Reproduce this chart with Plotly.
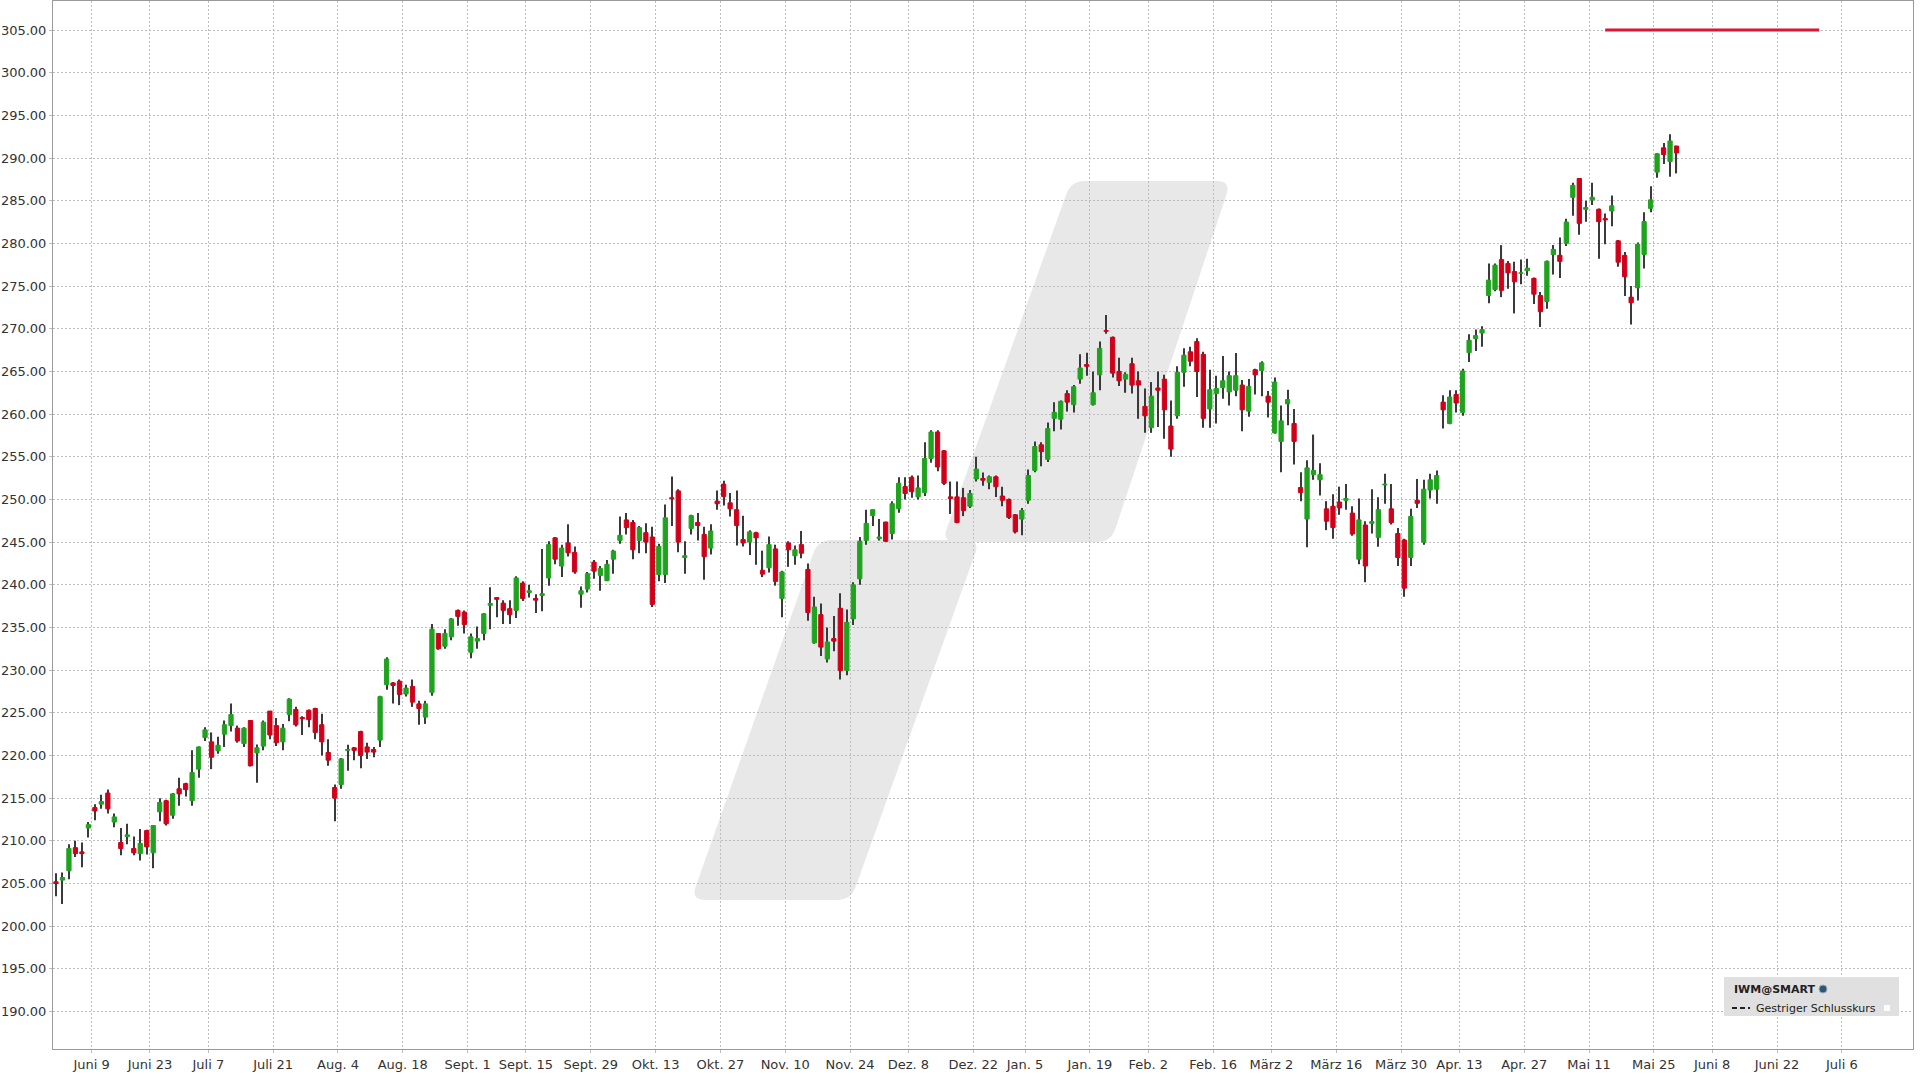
import pandas as pd
import plotly.graph_objects as go

# ---------------- data ----------------
holidays = ["2025-06-19", "2025-07-04", "2025-09-01", "2025-11-27", "2025-12-25",
            "2026-01-01", "2026-01-19", "2026-02-16", "2026-04-03", "2026-05-25"]

open_ = [205.2, 205.4, 206.5, 209.2, 208.7, 211.5, 213.9, 214.3, 215.6, 212.2, 209.8, 210.5, 209.1, 208.5, 211.2, 208.6, 213.4, 214.7, 213.0, 216.1, 216.7, 214.7, 218.4, 222.1, 221.6,
         220.55, 222.5, 223.5, 223.2, 221.4, 224.1, 220.3, 221.1, 225.2, 223.5, 221.6, 224.8, 225.4, 224.45, 225.3, 225.5, 223.6, 220.35, 216.25, 216.6, 220.6, 220.9, 222.8, 221.0, 220.7, 221.8,
         228.3, 228.5, 228.7, 227.2, 228.1, 226.05, 224.5, 227.4, 234.3, 232.8, 233.9, 237.0, 236.8, 232.1, 233.4, 234.3, 237.6, 238.5, 237.85, 237.2, 237.0, 240.2, 239.1, 238.4, 238.75,
         240.8, 245.5, 242.2, 244.9, 243.8, 238.9, 239.5, 242.65, 241.1, 240.5, 243.0, 245.2, 247.6, 247.3, 245.2, 246.1, 245.6, 241.2, 241.2, 250.2, 251.0, 243.2, 246.6, 247.3, 245.9, 244.3,
         249.8, 251.8, 249.6, 248.8, 245.3, 245.0, 246.1, 241.7, 242.0, 244.2, 238.4, 244.9, 243.4, 244.7, 241.8, 233.2, 236.5, 231.3, 233.7, 237.25, 229.95, 236.0, 240.7, 245.2, 248.1,
         245.4, 247.35, 246.0, 248.9, 251.5, 252.6, 250.3, 250.8, 254.8, 257.9, 255.7, 250.3, 250.3, 250.2, 249.2, 252.4, 252.45, 252.0, 252.65, 250.4, 250.0, 248.2, 247.7, 249.9, 253.4, 256.4,
         254.7, 259.5, 259.4, 262.4, 261.1, 264.1, 265.8, 261.1, 264.6, 269.8, 269.0, 265.0, 264.1, 265.9, 263.9, 260.9, 258.4, 263.05, 264.1, 258.6, 259.8, 264.9, 267.3, 268.5, 267.0,
         260.6, 262.4, 263.1, 262.6, 262.8, 263.4, 260.35, 265.2, 265.1, 262.1, 257.8, 256.8, 261.2, 258.9, 251.4, 247.7, 252.9, 252.3, 248.9, 249.2, 249.7, 249.9, 248.4, 243.0, 247.0, 247.2,
         245.55, 251.7, 248.9, 246.0, 245.25, 243.2, 249.9, 245.0, 251.1, 251.2, 261.4, 258.9, 262.3, 260.2, 267.2, 268.85, 269.5, 273.9, 274.6, 278.1, 277.65, 276.7, 276.5, 276.8, 275.9,
         273.9, 273.2, 278.7, 278.6, 280.0, 285.4, 287.6, 284.0, 285.1, 284.0, 282.9, 283.8, 280.3, 278.6, 273.7, 274.8, 278.7, 284.1, 288.35, 291.2, 289.6, 291.4]

high = [206.2, 206.3, 209.6, 210.0, 209.8, 212.2, 214.3, 215.4, 216.0, 213.2, 211.5, 212.0, 210.5, 211.4, 211.3, 211.8, 215.0, 214.8, 215.6, 217.4, 216.8, 220.6, 221.05, 223.3, 222.7,
        222.2, 224.1, 226.1, 223.5, 223.3, 224.1, 221.3, 224.1, 225.2, 224.4, 223.7, 226.7, 225.7, 224.6, 225.4, 225.6, 224.9, 221.9, 216.6, 219.7, 221.25, 221.0, 222.9, 221.5, 221.0, 227.0,
        231.5, 228.6, 228.9, 228.3, 228.9, 226.4, 226.4, 235.4, 234.3, 234.8, 236.1, 237.1, 237.0, 234.3, 235.1, 236.7, 239.7, 238.55, 238.2, 238.2, 241.0, 240.4, 240.0, 238.9, 244.2,
        245.1, 245.6, 244.7, 247.1, 244.5, 239.8, 241.5, 242.9, 242.2, 242.9, 244.1, 248.0, 248.4, 247.6, 246.9, 247.2, 246.8, 244.8, 249.4, 252.7, 251.2, 245.1, 248.2, 248.4, 246.8, 247.1,
        251.05, 252.2, 250.75, 251.05, 248.1, 246.4, 246.2, 244.0, 245.65, 244.7, 241.65, 245.1, 244.6, 246.3, 242.5, 238.6, 237.8, 235.0, 236.35, 239.0, 237.1, 240.3, 245.6, 248.8, 248.8,
        247.7, 247.4, 249.8, 252.6, 252.6, 252.8, 252.8, 256.7, 258.1, 258.1, 255.8, 252.1, 252.1, 251.35, 251.1, 255.0, 253.15, 252.8, 252.8, 251.5, 250.1, 248.3, 249.0, 253.5, 256.8, 256.7,
        259.0, 261.4, 261.6, 262.8, 263.4, 267.0, 267.2, 265.0, 268.5, 271.6, 269.1, 266.6, 264.9, 266.6, 265.0, 263.0, 263.75, 265.0, 264.6, 261.6, 265.6, 267.7, 267.9, 268.9, 267.3,
        265.2, 264.5, 266.8, 265.0, 267.15, 264.0, 264.1, 265.3, 266.2, 262.7, 264.3, 261.0, 262.85, 260.6, 253.2, 254.6, 257.6, 254.25, 249.8, 250.6, 251.5, 251.8, 249.2, 250.1, 247.45, 251.2,
        250.25, 253.0, 251.8, 246.65, 245.4, 248.9, 252.4, 252.3, 253.0, 253.4, 262.2, 262.8, 262.8, 265.3, 269.35, 269.9, 270.3, 277.65, 277.65, 279.8, 277.95, 277.85, 278.1, 278.2, 276.0,
        274.3, 278.0, 279.8, 280.7, 282.9, 287.1, 287.65, 285.0, 287.1, 284.1, 283.5, 285.6, 280.4, 279.0, 275.0, 280.1, 283.65, 286.7, 290.55, 291.75, 292.8, 291.45]

low = [203.5, 202.6, 205.5, 208.1, 206.9, 210.4, 212.4, 213.75, 213.2, 211.6, 208.3, 209.6, 208.3, 207.7, 208.4, 206.8, 212.3, 211.8, 212.6, 214.1, 215.2, 214.1, 217.4, 221.7, 218.4,
       220.2, 221.0, 222.8, 221.5, 221.0, 218.7, 216.8, 220.6, 221.9, 221.1, 220.6, 224.0, 223.4, 222.4, 223.3, 221.9, 220.0, 218.8, 212.3, 216.1, 218.2, 219.45, 218.5, 219.6, 219.8, 221.0,
       227.7, 226.1, 225.9, 226.9, 225.7, 223.6, 223.7, 227.0, 232.4, 232.5, 233.5, 235.2, 234.3, 231.4, 232.5, 233.5, 234.8, 236.2, 235.4, 235.4, 236.1, 238.1, 238.5, 236.7, 236.9,
       239.9, 242.4, 240.9, 243.3, 241.3, 237.3, 239.1, 240.7, 239.3, 240.4, 241.3, 244.8, 245.9, 243.0, 243.7, 243.7, 237.4, 240.4, 240.2, 246.9, 243.8, 241.3, 245.9, 245.2, 240.6, 243.55,
       248.8, 249.3, 248.0, 244.6, 244.5, 243.5, 242.35, 240.9, 241.45, 239.9, 236.2, 242.1, 242.35, 243.1, 235.8, 233.1, 231.65, 230.9, 232.2, 228.9, 229.4, 235.3, 240.0, 244.7, 246.9,
       245.2, 245.0, 245.3, 248.45, 250.0, 250.2, 250.0, 250.4, 254.3, 253.3, 251.7, 248.3, 247.2, 248.05, 249.0, 252.1, 251.6, 251.2, 250.3, 249.2, 247.7, 246.0, 245.8, 249.5, 253.2, 253.9,
       254.4, 258.0, 258.2, 260.3, 260.2, 263.55, 264.5, 261.0, 262.8, 269.4, 264.3, 263.3, 262.5, 262.4, 259.45, 257.8, 257.8, 258.5, 257.1, 255.0, 259.45, 263.2, 265.6, 262.0, 258.4,
       258.4, 258.9, 261.8, 261.0, 262.1, 258.0, 259.7, 262.3, 262.1, 259.6, 257.7, 253.2, 258.7, 254.1, 249.8, 244.4, 252.3, 250.45, 246.4, 245.4, 248.2, 248.8, 245.75, 242.4, 240.3, 246.0,
       244.45, 249.5, 247.05, 242.2, 238.6, 242.2, 249.0, 244.7, 250.1, 249.5, 258.3, 258.8, 260.2, 259.8, 266.1, 267.4, 267.9, 273.0, 274.4, 273.7, 274.7, 271.8, 275.2, 276.2, 272.9,
       270.2, 272.35, 276.35, 275.95, 279.7, 283.25, 281.0, 282.55, 284.5, 278.2, 279.9, 282.0, 277.25, 273.85, 270.5, 273.3, 277.05, 283.65, 287.7, 289.3, 287.8, 288.2]

close = [205.0, 205.7, 209.1, 208.5, 208.5, 211.9, 213.5, 214.6, 213.75, 212.8, 209.1, 210.7, 208.6, 209.7, 209.3, 211.8, 214.5, 212.0, 215.5, 215.5, 216.0, 218.0, 221.0, 223.0, 219.8,
         221.2, 223.6, 224.8, 221.7, 223.2, 218.8, 220.9, 223.9, 222.4, 221.5, 223.2, 226.6, 223.6, 224.3, 224.2, 222.7, 221.6, 219.45, 215.0, 219.6, 220.7, 220.6, 220.0, 220.4, 220.4, 226.9,
         231.3, 228.2, 227.15, 227.9, 226.25, 225.5, 226.05, 234.8, 232.5, 234.3, 236.0, 236.3, 235.35, 233.9, 233.7, 236.6, 237.8, 238.3, 237.0, 236.5, 240.8, 238.4, 239.3, 238.2, 238.95,
         244.7, 243.0, 244.3, 243.75, 241.5, 239.3, 241.3, 241.6, 241.9, 242.4, 243.95, 245.8, 246.7, 244.1, 246.7, 245.0, 237.7, 244.5, 247.85, 250.1, 245.0, 243.4, 248.1, 246.95, 243.3, 246.3,
         249.5, 250.35, 248.9, 246.95, 244.9, 246.2, 245.5, 241.25, 244.7, 240.4, 241.5, 244.1, 244.1, 243.7, 236.75, 237.4, 232.7, 233.3, 233.4, 229.95, 235.6, 240.0, 245.1, 247.2, 248.8,
         245.6, 245.1, 249.5, 251.9, 250.7, 250.9, 251.35, 254.8, 257.9, 253.8, 251.9, 250.1, 247.3, 248.7, 250.7, 253.55, 252.25, 252.65, 251.5, 249.9, 247.9, 246.2, 248.7, 252.8, 256.2, 255.6,
         258.3, 260.2, 261.5, 261.4, 263.2, 265.4, 265.6, 262.5, 267.7, 269.7, 264.8, 263.9, 264.65, 263.4, 263.4, 259.8, 262.1, 262.8, 260.5, 255.9, 264.9, 266.9, 266.2, 265.0, 259.5,
         262.85, 263.0, 263.9, 264.5, 264.5, 260.5, 263.25, 264.6, 266.0, 261.4, 263.75, 259.2, 261.7, 256.8, 250.8, 253.7, 253.4, 252.9, 247.45, 246.7, 249.0, 250.1, 245.95, 247.6, 242.2, 247.4,
         248.8, 251.8, 247.3, 243.2, 239.6, 248.0, 249.55, 251.2, 252.3, 252.8, 260.5, 262.0, 261.3, 265.05, 268.65, 269.2, 269.9, 275.7, 277.45, 274.5, 276.55, 275.5, 276.55, 277.1, 274.05,
         272.0, 277.9, 279.3, 277.9, 282.5, 286.8, 282.35, 284.2, 285.4, 282.55, 282.75, 284.4, 277.8, 276.1, 273.05, 279.9, 282.55, 285.1, 290.5, 290.4, 292.0, 290.6]

tick_mondays = ["2025-06-09", "2025-06-23", "2025-07-07", "2025-07-21", "2025-08-04", "2025-08-18",
                "2025-09-01", "2025-09-15", "2025-09-29", "2025-10-13", "2025-10-27", "2025-11-10",
                "2025-11-24", "2025-12-08", "2025-12-22", "2026-01-05", "2026-01-19", "2026-02-02",
                "2026-02-16", "2026-03-02", "2026-03-16", "2026-03-30", "2026-04-13", "2026-04-27",
                "2026-05-11", "2026-05-25", "2026-06-08", "2026-06-22", "2026-07-06"]
tick_labels = ["Juni 9", "Juni 23", "Juli 7", "Juli 21", "Aug. 4", "Aug. 18", "Sept. 1", "Sept. 15",
               "Sept. 29", "Okt. 13", "Okt. 27", "Nov. 10", "Nov. 24", "Dez. 8", "Dez. 22", "Jan. 5",
               "Jan. 19", "Feb. 2", "Feb. 16", "März 2", "März 16", "März 30", "Apr. 13", "Apr. 27",
               "Mai 11", "Mai 25", "Juni 8", "Juni 22", "Juli 6"]

ref_line_x = ["2026-05-13 12:00", "2026-06-30 12:00"]
ref_line_y = [305.0, 305.0]

y_ticks = list(range(190, 306, 5))

# ---------------- derived ----------------
hol_set = set(holidays)
days = [d for d in pd.bdate_range("2025-05-30", "2026-05-29") if d.strftime("%Y-%m-%d") not in hol_set]
assert len(days) == len(open_) == len(high) == len(low) == len(close) == 251
x = [d + pd.Timedelta(hours=12) for d in days]

GREEN = "#1fa31f"
RED = "#d0001a"
WICK = "#3a3a3a"
DAY_MS = 86400000

body_base = [min(o, c) for o, c in zip(open_, close)]
body_h = [abs(c - o) for o, c in zip(open_, close)]
body_col = [GREEN if c >= o else RED for o, c in zip(open_, close)]
wick_h = [h - l for h, l in zip(high, low)]


def boundary_before(monday):
    m = pd.Timestamp(monday)
    d = m - pd.Timedelta(days=1)
    while d.weekday() >= 5 or d.strftime("%Y-%m-%d") in hol_set:
        d -= pd.Timedelta(days=1)
    return d + pd.Timedelta(hours=23, minutes=59, seconds=59)


tick_vals = [boundary_before(m) for m in tick_mondays]

fig = go.Figure()
fig.add_trace(go.Bar(x=x, y=wick_h, base=low, width=0.17 * DAY_MS,
                     marker=dict(color=WICK, line=dict(width=0)), hoverinfo="skip"))
fig.add_trace(go.Bar(x=x, y=body_h, base=body_base, width=0.66 * DAY_MS,
                     marker=dict(color=body_col, line=dict(color=body_col, width=1)),
                     hoverinfo="skip"))
fig.add_trace(go.Scatter(x=ref_line_x, y=ref_line_y, mode="lines",
                         line=dict(color="#dc1436", width=3), hoverinfo="skip"))

# ---------------- layout / decoration ----------------
W, H = 1920, 1080
ML, MR, MT, MB = 53, 7, 1, 31
PW, PH = W - ML - MR, H - MT - MB


def to_paper(px, py):
    return (px - ML) / PW, 1 - (py - MT) / PH


def rounded_path(pts, r):
    n = len(pts)
    parts = []
    for i in range(n):
        p0, p1, p2 = pts[i - 1], pts[i], pts[(i + 1) % n]
        def toward(a, b, dist):
            dx, dy = b[0] - a[0], b[1] - a[1]
            ln = (dx * dx + dy * dy) ** 0.5
            return (a[0] + dx / ln * dist, a[1] + dy / ln * dist)
        a = toward(p1, p0, r)
        b = toward(p1, p2, r)
        pa, pc, pb = to_paper(*a), to_paper(*p1), to_paper(*b)
        parts.append(("M" if i == 0 else "L") + f"{pa[0]:.5f},{pa[1]:.5f}")
        parts.append(f"Q{pc[0]:.5f},{pc[1]:.5f} {pb[0]:.5f},{pb[1]:.5f}")
    return " ".join(parts) + " Z"


shapes = []
upper = [(1071, 181), (1231, 181), (1111, 542), (942, 542)]
lower = [(818, 540), (980, 540), (851, 900), (691, 900)]
for poly in (upper, lower):
    shapes.append(dict(type="path", path=rounded_path(poly, 14), xref="paper", yref="paper",
                       fillcolor="#e8e8e8", line=dict(width=0), layer="below"))

# legend box
bx0, by0 = to_paper(1724, 977)
bx1, by1 = to_paper(1899, 1016)
shapes.append(dict(type="rect", xref="paper", yref="paper", x0=bx0, y0=by1, x1=bx1, y1=by0,
                   fillcolor="#e0e0e0", line=dict(width=0), layer="above"))
cx, cy = to_paper(1823, 989)
rx, ry = 4 / PW, 4 / PH
shapes.append(dict(type="circle", xref="paper", yref="paper", x0=cx - rx, x1=cx + rx,
                   y0=cy - ry, y1=cy + ry, fillcolor="#2f5575", line=dict(color="#9ab", width=1),
                   layer="above"))
lx0, ly = to_paper(1732, 1008)
lx1, _ = to_paper(1750, 1008)
shapes.append(dict(type="line", xref="paper", yref="paper", x0=lx0, x1=lx1, y0=ly, y1=ly,
                   line=dict(color="#222", width=2, dash="5px,3px"), layer="above"))
sx, sy = to_paper(1887, 1008)
shapes.append(dict(type="rect", xref="paper", yref="paper", x0=sx - 3 / PW, x1=sx + 3 / PW,
                   y0=sy - 3 / PH, y1=sy + 3 / PH, fillcolor="#ffffff", line=dict(width=0),
                   layer="above"))

ax1, ay1 = to_paper(1732, 989)
ax2, ay2 = to_paper(1754, 1008)
annotations = [
    dict(text="<b>IWM@SMART</b>", x=ax1, y=ay1, xref="paper", yref="paper", xanchor="left",
         yanchor="middle", showarrow=False, font=dict(family="DejaVu Sans", size=11, color="#222")),
    dict(text="Gestriger Schlusskurs", x=ax2, y=ay2, xref="paper", yref="paper", xanchor="left",
         yanchor="middle", showarrow=False, font=dict(family="DejaVu Sans", size=11, color="#222")),
]

fig.update_layout(
    width=W, height=H,
    margin=dict(l=ML, r=MR, t=MT, b=MB),
    paper_bgcolor="white", plot_bgcolor="white",
    showlegend=False, barmode="overlay", hovermode=False,
    font=dict(family="DejaVu Sans", size=13, color="#333"),
    shapes=shapes, annotations=annotations,
)
fig.update_xaxes(
    type="date",
    range=["2025-05-30 01:00", "2026-07-20 23:30"],
    rangebreaks=[dict(bounds=["sat", "mon"]), dict(values=holidays)],
    tickmode="array", tickvals=tick_vals, ticktext=tick_labels,
    showgrid=True, gridcolor="#bdbdbd", griddash="2px,2px", gridwidth=1,
    showline=True, linecolor="#9a9a9a", linewidth=1, mirror=True,
    ticks="outside", ticklen=3, tickcolor="#bdbdbd",
    tickfont=dict(family="DejaVu Sans", size=13, color="#333"),
    zeroline=False,
)
fig.update_yaxes(
    range=[185.61, 308.4],
    tickmode="array", tickvals=y_ticks, tickformat=".2f",
    showgrid=True, gridcolor="#bdbdbd", griddash="2px,2px", gridwidth=1,
    showline=True, linecolor="#9a9a9a", linewidth=1, mirror=True,
    ticks="outside", ticklen=3, tickcolor="#bdbdbd",
    tickfont=dict(family="DejaVu Sans", size=13, color="#333"),
    zeroline=False,
)

fig.write_html("out.html")
